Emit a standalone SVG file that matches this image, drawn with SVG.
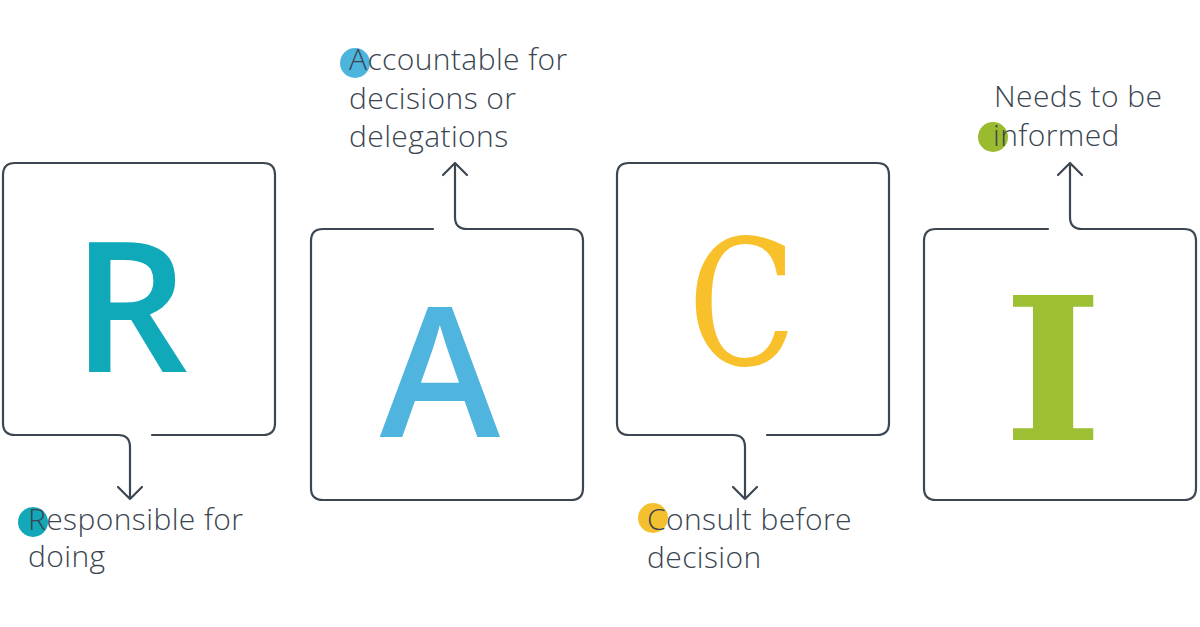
<svg xmlns="http://www.w3.org/2000/svg" width="1200" height="627" viewBox="0 0 1200 627">
<style>
.ln{fill:none;stroke:#3d4751;stroke-width:2.2;stroke-linecap:round;stroke-linejoin:round}
.lbl{font-family:"Open Sans","Noto Sans",sans-serif;font-size:30px;font-weight:300;letter-spacing:0.4px;fill:#3a4550}
.big{font-family:"Open Sans","DejaVu Sans",sans-serif;font-size:182px;font-weight:600;text-anchor:middle}
.bigs{font-family:"DejaVu Serif","Liberation Serif",serif;text-anchor:middle}
</style>
<rect width="1200" height="627" fill="#ffffff"/>
<g id="node-r">
<path class="ln" d="M152,435 H263 Q275,435 275,423 V175 Q275,163 263,163 H15 Q3,163 3,175 V423 Q3,435 15,435 H118"/>
<text class="big" x="130" y="372" fill="#10a9b9">R</text>
<circle cx="33" cy="522" r="15" fill="#13a8b8"/>
<text class="lbl" x="28" y="530">Responsible for</text>
<text class="lbl" x="28" y="567">doing</text>
</g>
<g id="node-a">
<path class="ln" d="M433,229 H323 Q311,229 311,241 V488 Q311,500 323,500 H571 Q583,500 583,488 V241 Q583,229 571,229 H467"/>
<text class="big" x="440" y="437" fill="#50b5de">A</text>
<circle cx="355" cy="63" r="15" fill="#4db4de"/>
<text class="lbl" x="349" y="70">Accountable for</text>
<text class="lbl" x="349" y="109">decisions or</text>
<text class="lbl" x="349" y="147">delegations</text>
</g>
<g id="node-c">
<path class="ln" d="M767,435 H877 Q889,435 889,423 V175 Q889,163 877,163 H629 Q617,163 617,175 V423 Q617,435 629,435 H733"/>
<text class="bigs" transform="translate(742,365) scale(0.78,0.96)" font-size="182" fill="#f8c12c">C</text>
<circle cx="653" cy="518" r="15" fill="#f5c030"/>
<text class="lbl" x="647" y="530">Consult before</text>
<text class="lbl" x="647" y="568">decision</text>
</g>
<g id="node-i">
<path class="ln" d="M1048,229 H936 Q924,229 924,241 V488 Q924,500 936,500 H1184 Q1196,500 1196,488 V241 Q1196,229 1184,229 H1082"/>
<text class="bigs" transform="translate(1053,440) scale(1.08,1)" font-size="198" font-weight="bold" fill="#9dbf33">I</text>
<circle cx="993" cy="137" r="15" fill="#9bbb2e"/>
<text class="lbl" x="994" y="107">Needs to be</text>
<text class="lbl" x="993" y="146">informed</text>
</g>
<g id="connectors">
<path class="ln" d="M118,435 Q130,435 130,447 V499 M118,487 L130,499 L142,487"/>
<path class="ln" d="M467,229 Q455,229 455,217 V163 M443,175 L455,163 L467,175"/>
<path class="ln" d="M733,435 Q745,435 745,447 V499 M733,487 L745,499 L757,487"/>
<path class="ln" d="M1082,229 Q1070,229 1070,217 V163 M1058,175 L1070,163 L1082,175"/>
</g>
</svg>
